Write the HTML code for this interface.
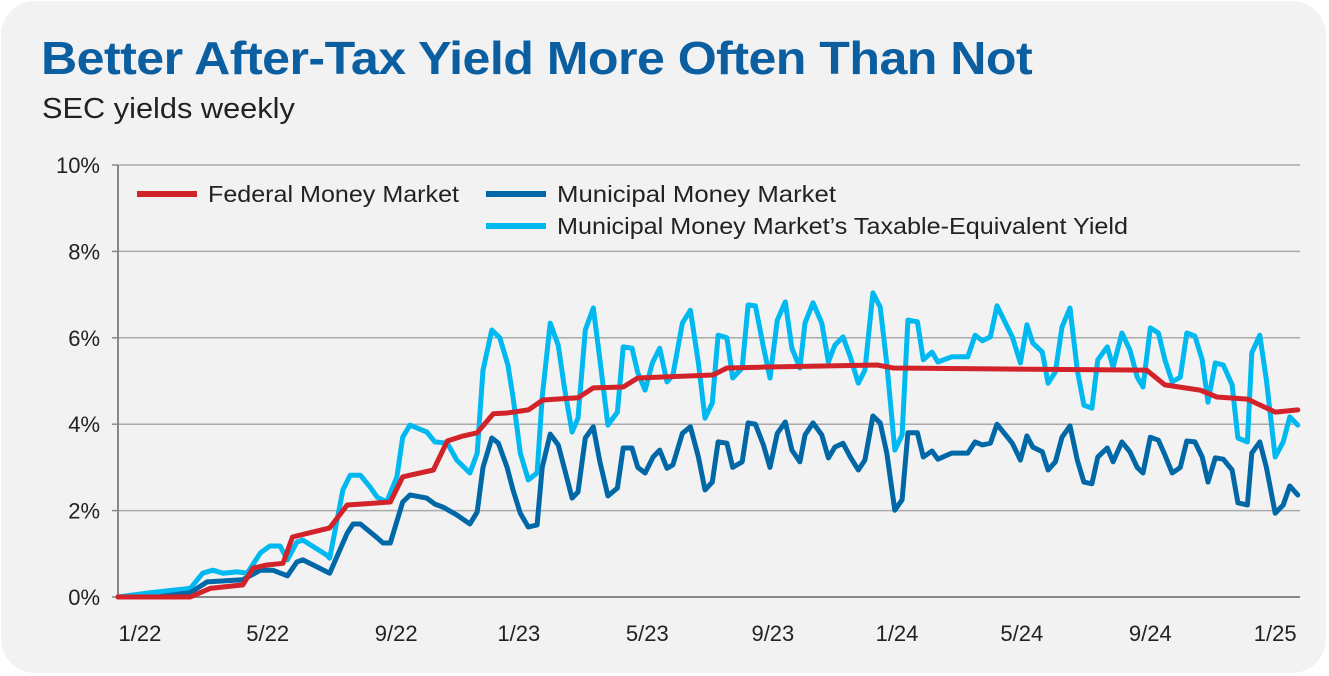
<!DOCTYPE html>
<html><head><meta charset="utf-8">
<style>
html,body{margin:0;padding:0;background:#fff;}
body{width:1329px;height:676px;overflow:hidden;font-family:"Liberation Sans",sans-serif;}
#card{position:absolute;left:1px;top:1px;width:1325px;height:672px;background:#f2f2f2;border-radius:34px;}
#title{position:absolute;left:40px;top:30px;font-size:46px;font-weight:bold;color:#0b5e9f;letter-spacing:-0.5px;transform:scaleX(1.09);transform-origin:left top;white-space:nowrap;}
#sub{position:absolute;left:41px;top:92px;font-size:29px;color:#222;transform:scaleX(1.06);transform-origin:left top;white-space:nowrap;}
svg{position:absolute;left:0;top:0;}
</style></head>
<body>
<div id="card">
<div id="title">Better After-Tax Yield More Often Than Not</div>
<div id="sub">SEC yields weekly</div>
</div>
<svg id="chart" width="1329" height="676"></svg>
<script>
const yTicks=[0,2,4,6,8,10];
const xTickLabels=["1/22","5/22","9/22","1/23","5/23","9/23","1/24","5/24","9/24","1/25"];
const xTickWeeks=[3.0,20.5,38.1,54.9,72.5,89.7,106.7,123.8,141.4,158.5];
const fedWeeks=[0,9.9,12.6,17.1,18.5,20.4,22.6,23.9,24.9,29.0,31.4,33.2,37.3,39.0,40.0,43.2,45.1,47.3,49.2,51.4,53.3,56.2,58.2,63.0,65.1,69.2,71.2,81.5,83.4,87.9,104.0,106.2,140.9,143.4,148.2,150.5,154.7,158.5,161.6];
const fedValues=[0,0,0.2,0.28,0.67,0.74,0.78,1.39,1.43,1.6,2.13,2.15,2.2,2.78,2.82,2.94,3.61,3.73,3.8,4.24,4.26,4.33,4.56,4.61,4.84,4.86,5.07,5.14,5.3,5.32,5.37,5.3,5.25,4.91,4.79,4.63,4.58,4.28,4.33];
const muniWeeks=[0,5.3,9.9,12.2,17.1,19.5,21.2,23.2,24.5,25.3,29.0,31.4,32.2,33.2,35.5,36.3,37.3,39.0,40.0,42.3,43.4,44.5,46.4,48.2,49.2,50.0,51.2,52.1,53.3,54.1,55.1,56.2,57.4,58.1,59.2,60.3,61.2,62.2,63.0,64.0,65.1,66.0,67.1,68.4,69.2,70.4,71.2,72.2,73.3,74.2,75.2,76.0,77.3,78.4,79.5,80.4,81.4,82.2,83.4,84.2,85.5,86.3,87.3,88.4,89.3,90.3,91.4,92.3,93.4,94.1,95.2,96.4,97.3,98.2,99.3,100.3,101.4,102.3,103.4,104.4,105.3,106.4,107.4,108.2,109.5,110.3,111.5,112.3,114.2,116.4,117.4,118.4,119.5,120.4,122.5,123.6,124.5,125.3,126.6,127.4,128.4,129.3,130.4,131.4,132.3,133.4,134.2,135.5,136.3,137.5,138.6,139.6,140.4,141.4,142.5,143.4,144.4,145.5,146.4,147.5,148.5,149.3,150.3,151.4,152.6,153.4,154.7,155.3,156.4,157.3,158.5,159.6,160.5,161.6];
const muniValues=[0,0,0.1,0.35,0.4,0.62,0.62,0.49,0.81,0.86,0.55,1.48,1.69,1.69,1.37,1.25,1.25,2.2,2.36,2.29,2.15,2.08,1.9,1.69,1.97,3.0,3.68,3.56,3.0,2.48,1.94,1.62,1.67,3.0,3.77,3.52,2.94,2.29,2.43,3.68,3.94,3.13,2.34,2.52,3.45,3.45,3.0,2.87,3.24,3.4,2.98,3.06,3.79,3.94,3.24,2.48,2.66,3.59,3.56,3.0,3.13,4.03,4.0,3.52,3.0,3.79,4.05,3.4,3.13,3.75,4.03,3.75,3.22,3.47,3.56,3.24,2.94,3.17,4.19,4.03,3.33,2.01,2.25,3.8,3.8,3.24,3.38,3.19,3.33,3.33,3.59,3.52,3.56,4.0,3.56,3.17,3.73,3.47,3.36,2.94,3.13,3.7,3.96,3.17,2.66,2.62,3.24,3.45,3.13,3.59,3.36,3.0,2.87,3.7,3.63,3.29,2.87,3.0,3.61,3.59,3.24,2.66,3.22,3.19,2.94,2.18,2.13,3.33,3.59,3.0,1.94,2.13,2.57,2.36];
const teyWeeks=[0,4.4,9.9,11.6,13.0,14.4,16.3,17.7,19.5,20.8,22.2,23.2,24.5,25.3,28.6,29.0,30.8,31.8,33.2,34.5,35.5,36.8,38.2,39.0,40.0,42.3,43.4,45.1,46.4,48.2,49.2,50.0,51.2,52.3,53.4,54.1,55.1,56.2,57.4,58.1,59.2,60.3,61.2,62.2,63.0,64.0,65.1,66.0,67.1,68.4,69.2,70.4,71.2,72.2,73.2,74.2,75.2,76.0,77.3,78.4,79.5,80.4,81.4,82.2,83.4,84.2,85.5,86.3,87.3,88.4,89.3,90.3,91.4,92.3,93.4,94.1,95.2,96.4,97.3,98.2,99.3,100.3,101.4,102.3,103.4,104.4,105.3,106.4,107.4,108.2,109.5,110.3,111.5,112.3,114.2,116.4,117.4,118.4,119.5,120.4,122.5,123.6,124.5,125.3,126.6,127.4,128.4,129.3,130.4,131.4,132.3,133.4,134.2,135.5,136.3,137.5,138.6,139.6,140.4,141.4,142.5,143.4,144.4,145.5,146.4,147.5,148.5,149.3,150.3,151.4,152.6,153.4,154.7,155.3,156.4,157.3,158.5,159.6,160.5,161.6];
const teyValues=[0,0.1,0.2,0.55,0.62,0.55,0.58,0.55,1.02,1.18,1.18,0.86,1.27,1.32,0.97,0.9,2.48,2.82,2.82,2.55,2.31,2.2,2.78,3.7,3.98,3.82,3.59,3.56,3.17,2.87,3.33,5.25,6.18,6.0,5.37,4.63,3.33,2.71,2.87,4.63,6.34,5.83,4.79,3.82,4.14,6.18,6.69,5.49,3.98,4.28,5.79,5.76,5.19,4.79,5.42,5.76,4.98,5.14,6.34,6.64,5.42,4.14,4.49,6.06,6.0,5.07,5.3,6.76,6.74,5.79,5.07,6.41,6.83,5.76,5.3,6.34,6.81,6.34,5.44,5.83,6.02,5.56,4.95,5.25,7.04,6.71,5.4,3.4,3.75,6.41,6.37,5.49,5.67,5.44,5.56,5.56,6.06,5.93,6.02,6.74,6.02,5.42,6.3,5.88,5.67,4.95,5.21,6.25,6.69,5.25,4.44,4.37,5.49,5.79,5.32,6.11,5.72,5.09,4.86,6.23,6.11,5.49,4.98,5.09,6.11,6.04,5.49,4.51,5.42,5.37,4.91,3.68,3.59,5.65,6.06,5.02,3.24,3.59,4.17,3.98];

const svg=document.getElementById('chart');
const NS='http://www.w3.org/2000/svg';
const X0=118,X1=1300,Y0=597,Y1=165,WMAX=161.9;
function xs(w){return X0+(w/WMAX)*(X1-X0);}
function ys(v){return Y0-(v/10)*(Y0-Y1);}
function mk(tag,attrs){const e=document.createElementNS(NS,tag);for(const k in attrs)e.setAttribute(k,attrs[k]);svg.appendChild(e);return e;}

yTicks.forEach(t=>{
  const g=mk('line',{x1:X0,x2:X1,y1:ys(t),y2:ys(t),stroke:t===0?'#888':'#aaa','stroke-width':t===0?2:1.5});
  
  
  const tk=mk('line',{x1:X0-6,x2:X0,y1:ys(t),y2:ys(t),stroke:'#888','stroke-width':1.5});
  
  
  const tx=mk('text',{x:100,y:ys(t)+8,'text-anchor':'end','font-size':22,fill:'#222','font-family':'Liberation Sans, sans-serif'});
  tx.textContent=t+'%';
  
  
});
const ax=mk('line',{x1:X0,x2:X0,y1:Y1,y2:Y0,stroke:'#888','stroke-width':2});


xTickLabels.forEach((l,i)=>{
  const tx=mk('text',{x:xs(xTickWeeks[i]),y:641,'text-anchor':'middle','font-size':22,fill:'#222','font-family':'Liberation Sans, sans-serif'});
  tx.textContent=l;
  
  
});
function series(ws,vs,color,name){
  const d=ws.map((w,i)=>(i?'L':'M')+xs(w).toFixed(1)+' '+ys(vs[i]).toFixed(1)).join(' ');
  const p=mk('path',{d:d,fill:'none',stroke:color,'stroke-width':5,'stroke-linejoin':'round','stroke-linecap':'round'});
  
  
}
series(teyWeeks,teyValues,'#00b9f0','tey-yield-line');
series(muniWeeks,muniValues,'#0068a6','municipal-line');
series(fedWeeks,fedValues,'#d2232a','federal-line');

function legend(x,y,color,label,name,len){
  const l=mk('line',{x1:x,x2:x+60,y1:y,y2:y,stroke:color,'stroke-width':6});
  
  
  const t=mk('text',{x:x+71,y:y+8,'font-size':23,fill:'#222','font-family':'Liberation Sans, sans-serif',textLength:len,lengthAdjust:'spacingAndGlyphs'});
  t.textContent=label;
  
  
}
legend(137,194,'#d2232a','Federal Money Market','legend-federal',251);
legend(486,194,'#0068a6','Municipal Money Market','legend-municipal',279);
legend(486,226,'#00b9f0','Municipal Money Market\u2019s Taxable-Equivalent Yield','legend-tey',571);
</script>
</body></html>
